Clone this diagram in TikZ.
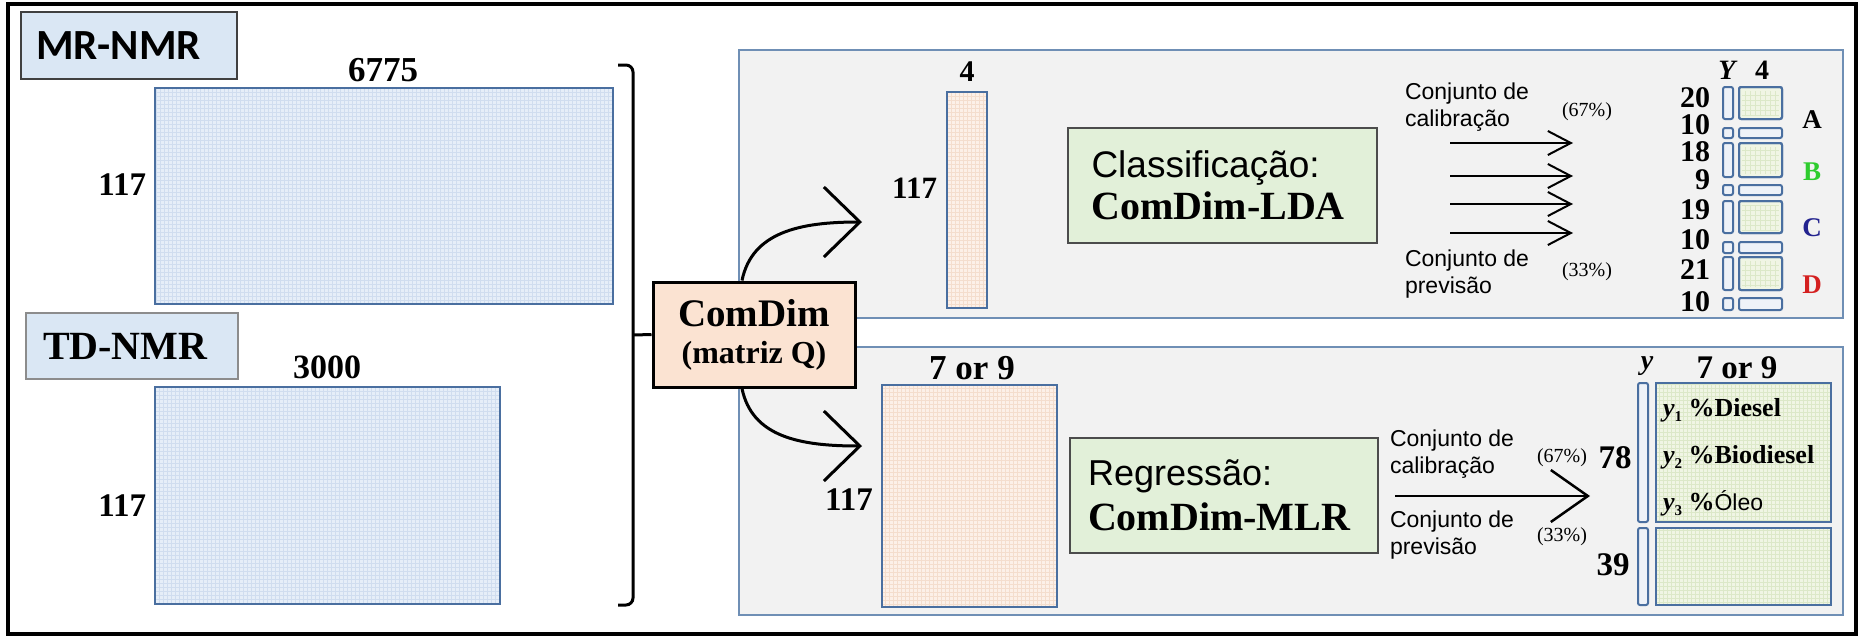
\documentclass[tikz,border=0pt]{standalone}
\usepackage{fontspec}
\setmainfont{Liberation Serif}
\newfontfamily\arialf{Liberation Sans}
\newfontfamily\calif{Carlito}
\usetikzlibrary{arrows.meta}
\definecolor{panelfill}{HTML}{F2F2F2}
\definecolor{panelline}{HTML}{6F8FB5}
\definecolor{matline}{HTML}{4A6FA0}
\definecolor{bluefill}{HTML}{E6EEF8}
\definecolor{bluegrid}{HTML}{D0DDEF}
\definecolor{peachfill}{HTML}{FCF0E8}
\definecolor{peachgrid}{HTML}{F4DDCD}
\definecolor{greenfill}{HTML}{F0F5E4}
\definecolor{greengrid}{HTML}{DCE8C8}
\definecolor{ycolfill}{HTML}{EEF2F8}
\definecolor{labelblue}{HTML}{DAE7F4}
\definecolor{comdimfill}{HTML}{FBE3D2}
\definecolor{boxgreen}{HTML}{E2F0D9}
\definecolor{Bgreen}{HTML}{2ECC2E}
\definecolor{Cblue}{HTML}{23238F}
\definecolor{Dred}{HTML}{D42020}
\newcommand\yy[1]{{\itshape y}\raisebox{-5pt}{\fontsize{15}{15}\selectfont #1}}
\tikzset{
  lab/.style={inner sep=0pt, outer sep=0pt},
  sb/.style={font=\fontsize{#1}{#1}\selectfont\bfseries},
  ss/.style={font=\arialf\fontsize{23}{27}\selectfont, align=left, inner sep=0pt, outer sep=0pt, anchor=north west},
  panel/.style={draw=panelline, fill=panelfill, line width=2.5pt, inner sep=0pt, outer sep=0pt, anchor=north west},
  mat/.style={draw=matline, line width=2.5pt, inner sep=0pt, outer sep=0pt, anchor=north west},
  gridded/.style 2 args={fill=#1, path picture={\draw[#2, line width=0.6pt] (path picture bounding box.south west) grid[step=4pt] (path picture bounding box.north east);}},
  gbox/.style={draw=black!70, fill=boxgreen, line width=2pt, inner sep=0pt, outer sep=0pt},
  arr/.style={line width=3pt, -{Straight Barb[length=36pt,width=70pt]}},
  sarr/.style={line width=2pt, -{Straight Barb[length=23pt,width=24pt]}},
  small/.style={draw=matline, line width=2pt, rounded corners=2pt},
}
\begin{document}
\begin{tikzpicture}[x=1pt,y=-1pt]
\useasboundingbox (0,0) rectangle (1863,638);
\fill[white] (0,0) rectangle (1863,638);
\draw[line width=3.5pt] (8,4) rectangle (1856,634);

% left side
\node[draw=black!75, fill=labelblue, line width=2pt, minimum width=216pt, minimum height=67pt, inner xsep=15pt, inner ysep=0pt, text width=186pt, align=left, font=\calif\fontsize{43}{43}\selectfont\bfseries] (mr) at (129,45.5) {MR-NMR};
\node[lab, sb=35] (n6775) at (383,70) {6775};
\node[mat, gridded={bluefill}{bluegrid}, minimum width=458pt, minimum height=216pt] (m1) at (155,88) {};
\node[lab, sb=33, anchor=east] (r1) at (146,185) {117};

\node[draw=black!45, fill=labelblue, line width=2pt, minimum width=212pt, minimum height=66pt, inner xsep=17pt, inner ysep=0pt, text width=178pt, align=left, font=\fontsize{40}{40}\selectfont\bfseries] (td) at (132,346) {TD-NMR};
\node[lab, sb=34] (n3000) at (327,367) {3000};
\node[mat, gridded={bluefill}{bluegrid}, minimum width=345pt, minimum height=217pt] (m2) at (155,387) {};
\node[lab, sb=33, anchor=east] (r2) at (146,506) {117};

% bracket
\draw[line width=3pt, rounded corners=7pt] (618,65) -- (633,65) -- (633,605) -- (618,605);
\coordinate (br) at (633,335);

% panels
\node[panel, minimum width=1104pt, minimum height=268pt] (ptop) at (739,50) {};
\node[panel, minimum width=1104pt, minimum height=268pt] (pbot) at (739,347) {};

% ComDim
\node[draw=black, fill=comdimfill, line width=3pt, minimum width=202pt, minimum height=105pt, inner sep=0pt, align=center, font=\fontsize{32}{37}\selectfont\bfseries] (cd) at (754,334.5) {{\fontsize{39}{37}\selectfont ComDim}\\(matriz Q)};
\draw[line width=3pt] (br) -- (cd.west);

\coordinate (tip1) at (862,222);
\coordinate (tip2) at (862,446);
\draw[arr] ([xshift=-12pt]cd.north) .. controls (752,232) and (800,222) .. (tip1);
\draw[arr] ([xshift=-12pt]cd.south) .. controls (752,437) and (800,446) .. (tip2);

% top panel
\node[lab, sb=30] (n4) at (967,72) {4};
\node[mat, gridded={peachfill}{peachgrid}, minimum width=40pt, minimum height=216pt] (m3) at (947,92) {};
\node[lab, sb=31, anchor=east] (r3) at (937,188) {117};
\node[gbox, minimum width=309pt, minimum height=115pt, text width=262pt, align=left, font=\fontsize{38}{42}\selectfont] (cls) at (1222.5,185.5) {{\arialf\fontsize{37}{42}\selectfont Classificação:}\\{\bfseries\fontsize{40}{42}\selectfont ComDim-LDA}};

\node[ss] (cal1) at (1405,83) {Conjunto de\\calibração};
\node[ss] (prv1) at (1405,250) {Conjunto de\\previsão};
\node[lab, font=\fontsize{20}{20}\selectfont] (pc1) at (1587,112) {(67\%)};
\node[lab, font=\fontsize{20}{20}\selectfont] (pc2) at (1587,272) {(33\%)};
\foreach \yv [count=\i] in {143,176,204,233} {
  \coordinate (as\i) at (1450,\yv);
  \coordinate (ae\i) at (1573,\yv);
  \draw[sarr] (as\i) -- (ae\i);
}
\node[lab, font=\fontsize{28}{28}\selectfont\bfseries\itshape] (Yl) at (1727,70) {Y};
\node[lab, sb=28] (n4b) at (1762,70) {4};
\foreach \t/\b/\k in {87/119/1,128/138/0,143/177/1,185/195/0,201/233/1,242/253/0,257/290/1,298/310/0} {
  \ifnum\k=1
    \draw[small, fill=ycolfill] (1723,\t) rectangle (1733,\b);
    \draw[small, fill=greenfill] (1739,\t) rectangle (1782,\b);
    \draw[greengrid, line width=0.6pt] (1742,\t+4) grid[step=5pt] (1779,\b-3);
    \draw[small] (1739,\t) rectangle (1782,\b);
  \else
    \draw[small, fill=ycolfill] (1723,\t) rectangle (1733,\b);
    \draw[small, fill=ycolfill] (1739,\t) rectangle (1782,\b);
  \fi
}
\foreach \yv/\tx [count=\i] in {98/20,125/10,152/18,180/9,210/19,240/10,270/21,302/10} {
  \node[lab, sb=30, anchor=east] (num\i) at (1710,\yv) {\tx};
}
\node[lab, sb=27] (cA) at (1812,120) {A};
\node[lab, sb=27, text=Bgreen] (cB) at (1812,172) {B};
\node[lab, sb=27, text=Cblue] (cC) at (1812,228) {C};
\node[lab, sb=27, text=Dred] (cD) at (1812,285) {D};

% bottom panel
\node[lab, sb=35] (n79) at (972,368) {7 or 9};
\node[mat, gridded={peachfill}{peachgrid}, minimum width=175pt, minimum height=222pt] (m4) at (882,385) {};
\node[lab, sb=33] (r4) at (849,500) {117};
\node[gbox, minimum width=308pt, minimum height=115pt, text width=272pt, align=left, font=\fontsize{38}{45}\selectfont] (reg) at (1224,495.5) {{\arialf\fontsize{36}{45}\selectfont Regressão:}\\{\bfseries\fontsize{40}{45}\selectfont ComDim-MLR}};

\node[ss] (cal2) at (1390,430) {Conjunto de\\calibração};
\node[ss] (prv2) at (1390,511) {Conjunto de\\previsão};
\coordinate (bs) at (1395,496);
\coordinate (be) at (1590,496);
\draw[line width=2.5pt, -{Straight Barb[length=37pt,width=52pt]}] (bs) -- (be);
\node[lab, font=\fontsize{20}{20}\selectfont] (pc3) at (1562,458) {(67\%)};
\node[lab, font=\fontsize{20}{20}\selectfont] (pc4) at (1562,537) {(33\%)};
\node[lab, sb=33] (n78) at (1615,458) {78};
\node[lab, sb=33] (n39) at (1613,565) {39};

\node[lab, font=\fontsize{28}{28}\selectfont\bfseries\itshape] (yl) at (1647,366) {y};
\node[lab, sb=33] (n79b) at (1737,368) {7 or 9};
\draw[small, fill=ycolfill] (1638,383) rectangle (1648,522);
\draw[small, fill=ycolfill] (1638,528) rectangle (1648,605);
\node[mat, gridded={greenfill}{greengrid}, minimum width=175pt, minimum height=139pt] (yb1) at (1656,383) {};
\node[mat, gridded={greenfill}{greengrid}, minimum width=175pt, minimum height=77pt] (yb2) at (1656,528) {};
\node[lab, sb=26, anchor=west] (y1) at (1663,410) {\yy{1} \%Diesel};
\node[lab, sb=26, anchor=west] (y2) at (1663,457) {\yy{2} \%Biodiesel};
\node[lab, sb=26, anchor=west] (y3) at (1663,503) {\yy{3} \%{\arialf\mdseries\fontsize{23}{23}\selectfont Óleo}};
\end{tikzpicture}
\end{document}
